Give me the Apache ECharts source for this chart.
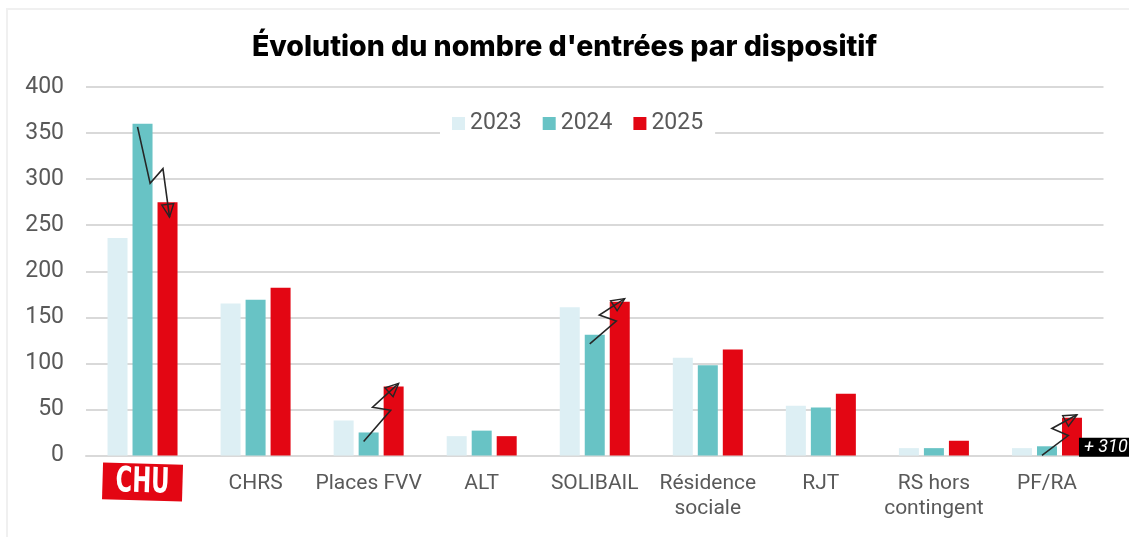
<!DOCTYPE html>
<html lang="fr">
<head>
<meta charset="utf-8">
<title>Évolution du nombre d'entrées par dispositif</title>
<script src="https://cdn.jsdelivr.net/npm/echarts@6/dist/echarts.min.js"></script>
<style>
  html, body { margin: 0; padding: 0; background: #ffffff; }
  #wrap { position: relative; width: 1129px; height: 537px; overflow: hidden; }
  #frame { position: absolute; left: 6px; top: 8px; width: 1200px; height: 600px;
           border-top: 2px solid #f0f0f0; border-left: 2px solid #f0f0f0; }
  #chart { position: absolute; left: 0; top: 0; width: 1129px; height: 537px; }
</style>
</head>
<body>
<div id="wrap">
  <div id="frame"></div>
  <div id="chart"></div>
</div>
<script>
// Entrées par dispositif, par année
const categories = ['CHU', 'CHRS', 'Places FVV', 'ALT', 'SOLIBAIL', 'Résidence\nsociale', 'RJT', 'RS hors\ncontingent', 'PF/RA'];
const years = ['2023', '2024', '2025'];
const entries2023 = [236, 165, 38, 21, 161, 106, 54, 8, 8];
const entries2024 = [360, 169, 25, 27, 131, 98, 52, 8, 10];
const entries2025 = [275, 182, 75, 21, 167, 115, 67, 16, 41];
const yTicks = [0, 50, 100, 150, 200, 250, 300, 350, 400];
// Dispositifs annotés d'une flèche 2024 -> 2025
const arrowCategories = ['CHU', 'Places FVV', 'SOLIBAIL', 'PF/RA'];
// Dispositif dont la variation 2024 -> 2025 est affichée
const highlightCategory = 'PF/RA';

const colors = ['#ddeff4', '#68c3c5', '#e30613'];
const textGrey = '#595959';
const gridGrey = '#d9d9d9';
const BAR_W = 20, BAR_GAP = 5;

const chart = echarts.init(document.getElementById('chart'), null, { renderer: 'canvas' });

const hiIdx = categories.indexOf(highlightCategory);
const pct = Math.round((entries2025[hiIdx] - entries2024[hiIdx]) / entries2024[hiIdx] * 100);

const series = [entries2023, entries2024, entries2025].map((vals, i) => ({
  name: years[i],
  type: 'bar',
  barWidth: BAR_W,
  barGap: (BAR_GAP / BAR_W * 100) + '%',
  itemStyle: { color: colors[i] },
  data: vals.map((v, k) => {
    if (i === 2 && k === hiIdx) {
      return {
        value: v,
        label: {
          show: true,
          position: [17, 20],
          align: 'left',
          verticalAlign: 'top',
          formatter: '+ ' + pct + '%',
          color: '#ffffff',
          backgroundColor: '#000000',
          fontFamily: 'Roboto',
          fontStyle: 'italic',
          fontSize: 18,
          lineHeight: 18,
          padding: [1, 4, 0, 5]
        }
      };
    }
    return v;
  })
}));

chart.setOption({
  animation: false,
  textStyle: { fontFamily: 'Roboto' },
  title: {
    text: "Évolution du nombre d'entrées par dispositif",
    left: 'center',
    top: 33,
    padding: 0,
    textStyle: { fontFamily: 'Inter', fontWeight: 800, fontSize: 28.5, color: '#000000' }
  },
  legend: {
    data: years,
    left: 440,
    top: 106,
    padding: [6, 12],
    itemGap: 21,
    itemWidth: 13,
    itemHeight: 13,
    icon: 'rect',
    backgroundColor: '#ffffff',
    textStyle: { fontSize: 23, color: textGrey, fontFamily: 'Roboto' }
  },
  grid: { left: 86, right: 25.5, top: 87, bottom: 81.5, containLabel: false },
  xAxis: {
    type: 'category',
    data: categories,
    axisTick: { show: false },
    axisLine: { lineStyle: { color: gridGrey, width: 2 } },
    axisLabel: {
      interval: 0,
      margin: 16,
      fontSize: 21,
      lineHeight: 25,
      color: textGrey,
      formatter: (v) => (v === 'CHU' ? '' : v)
    }
  },
  yAxis: {
    type: 'value',
    min: yTicks[0],
    max: yTicks[yTicks.length - 1],
    interval: yTicks[1] - yTicks[0],
    axisLine: { show: false },
    axisTick: { show: false },
    axisLabel: { fontSize: 23, color: textGrey, margin: 22 },
    splitLine: { lineStyle: { color: gridGrey, width: 2 } }
  },
  series: series
});

// Décorations : étiquette CHU et flèches en éclair
function barTop(seriesIdx, catIdx, vals) {
  const p = chart.convertToPixel({ gridIndex: 0 }, [catIdx, vals[catIdx]]);
  return [p[0] + (seriesIdx - 1) * (BAR_W + BAR_GAP), p[1]];
}

function boltArrow(p0, p1) {
  const dx = p1[0] - p0[0], dy = p1[1] - p0[1];
  const L = Math.hypot(dx, dy);
  const ux = dx / L, uy = dy / L;
  const nx = -uy, ny = ux;
  const A = [p0[0] + 0.6 * dx + 7 * nx, p0[1] + 0.6 * dy + 7 * ny];
  const B = [p0[0] + 0.5 * dx - 10 * nx, p0[1] + 0.5 * dy - 10 * ny];
  // tête ouverte orientée selon le dernier segment
  const fx = p1[0] - B[0], fy = p1[1] - B[1];
  const fl = Math.hypot(fx, fy);
  const vx = fx / fl, vy = fy / fl;
  const wx = -vy, wy = vx;
  const head = [
    [p1[0], p1[1]],
    [p1[0] - 13 * vx + 6 * wx, p1[1] - 13 * vy + 6 * wy],
    [p1[0] - 13 * vx - 6 * wx, p1[1] - 13 * vy - 6 * wy]
  ];
  const stroke = { stroke: '#262626', lineWidth: 1.6, fill: null };
  return [
    { type: 'polyline', shape: { points: [p0, A, B, p1] }, style: stroke, z: 100 },
    { type: 'polygon', shape: { points: head }, style: { stroke: '#262626', lineWidth: 1.4, fill: 'rgba(0,0,0,0)' }, z: 100 }
  ];
}

const graphics = [];
arrowCategories.forEach((cat) => {
  const k = categories.indexOf(cat);
  const s = barTop(1, k, entries2024);
  const e = barTop(2, k, entries2025);
  const down = entries2025[k] < entries2024[k];
  const p0 = down ? [s[0] - 5, s[1] + 3] : [s[0] - 5, s[1] + 9];
  const p1 = down ? [e[0] + 2, e[1] + 15] : [e[0] + 5, e[1] - 3];
  graphics.push(...boltArrow(p0, p1));
});

const chuPos = chart.convertToPixel({ xAxisIndex: 0 }, 'CHU');
graphics.push({
  type: 'group',
  x: chuPos,
  y: 482,
  rotation: -0.028,
  children: [
    { type: 'rect', shape: { x: -40, y: -18.5, width: 80, height: 37 }, style: { fill: '#e30613' } },
    {
      type: 'text',
      scaleX: 0.72,
      style: {
        text: 'CHU',
        x: 0, y: 1,
        align: 'center',
        verticalAlign: 'middle',
        fill: '#ffffff',
        font: "bold 35px 'Liberation Sans Narrow', 'DejaVu Sans Condensed', sans-serif"
      }
    }
  ]
});

chart.setOption({ graphic: graphics });
</script>
</body>
</html>
